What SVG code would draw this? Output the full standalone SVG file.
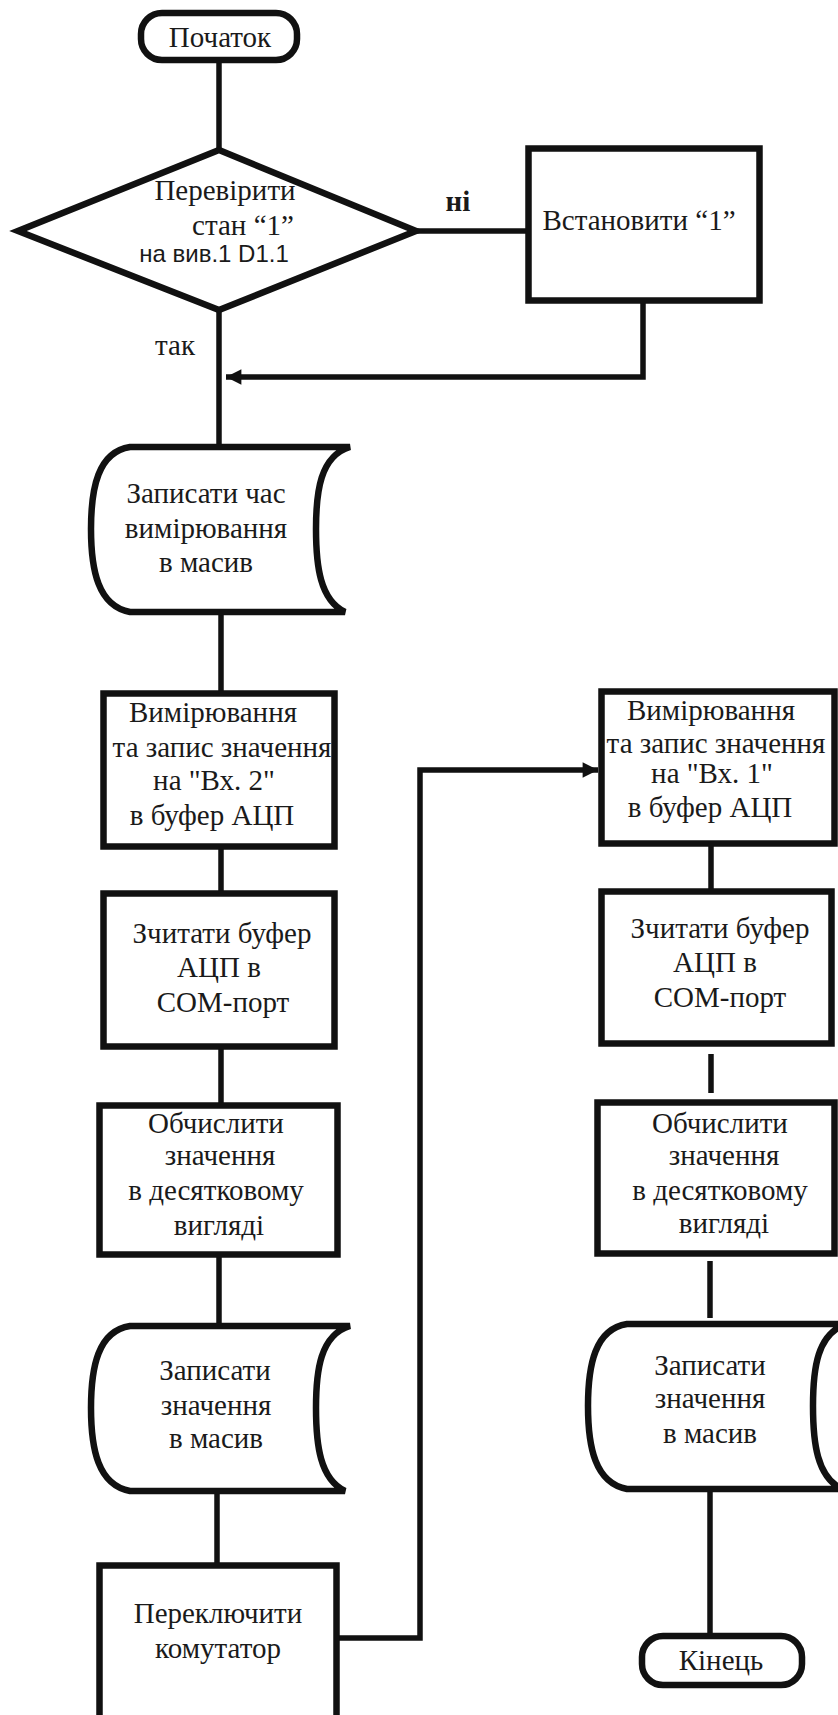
<svg xmlns="http://www.w3.org/2000/svg" width="838" height="1715" viewBox="0 0 838 1715" font-family="'Liberation Serif', 'Times New Roman', Tinos, 'DejaVu Serif', serif">
<style>
.s{fill:#fff;stroke:#111;stroke-width:6.5;stroke-linejoin:miter}
.c{fill:none;stroke:#111;stroke-width:5.5}
.t{font-family:'Liberation Serif','Times New Roman',Tinos,'DejaVu Serif',serif;font-size:29px;fill:#1a1a1a;text-anchor:middle}
.sans{font-family:'Liberation Sans',Arial,sans-serif;font-size:24px;fill:#1a1a1a;text-anchor:middle}
</style>
<defs>
<marker id="ah" viewBox="0 0 10 10" refX="10" refY="5" markerWidth="3.2" markerHeight="2.8" orient="auto" markerUnits="strokeWidth">
<path d="M0,0 L10,5 L0,10 Z" fill="#111"/>
</marker>
<path id="doc" d="M130,447 H350 C320,456 316,492 316,529 C316,566 320,600 345,612 H130 C98,606 91,570 91,529 C91,488 98,452 130,447 Z"/>
</defs>
<rect width="838" height="1715" fill="#fff"/>
<g id="connectors">
<path class="c" d="M219,63 V149"/>
<path class="c" d="M417,231 H527"/>
<path class="c" d="M643,303 V377 H226" marker-end="url(#ah)"/>
<path class="c" d="M219,311 V447"/>
<path class="c" d="M221,612 V692"/>
<path class="c" d="M221,848 V892"/>
<path class="c" d="M221,1048 V1104"/>
<path class="c" d="M219,1256 V1327"/>
<path class="c" d="M217,1494 V1564"/>
<path class="c" d="M339,1638 H420 V770 H598" marker-end="url(#ah)"/>
<path class="c" d="M711,846 V890"/>
<path class="c" d="M711,1054 V1093"/>
<path class="c" d="M710,1261 V1318"/>
<path class="c" d="M710,1491 V1635"/>
</g>
<g id="start"><rect class="s" x="141" y="13" width="156" height="47" rx="21"/><text class="t" x="220" y="47">Початок</text></g>
<g id="check"><polygon class="s" points="219,150 416,231 219,310 18,231"/>
<text class="t" x="225" y="200">Перевірити</text>
<text class="t" x="243" y="235">стан “1”</text>
<text class="sans" x="214" y="262">на вив.1 D1.1</text></g>
<g id="set1"><rect class="s" x="528.5" y="148.5" width="231" height="152"/><text class="t" x="639" y="230">Встановити “1”</text></g>
<g id="labels"><text class="t" x="458" y="211" font-weight="bold">ні</text><text class="t" x="175" y="355">так</text></g>
<g id="doc1"><use href="#doc" class="s"/>
<text class="t" x="206" y="503">Записати час</text><text class="t" x="206" y="538">вимірювання</text><text class="t" x="206" y="572">в масив</text></g>
<g id="meas2"><rect class="s" x="103.5" y="693.5" width="231" height="153"/>
<text class="t" x="213" y="722">Вимірювання</text><text class="t" x="222" y="757">та запис значення</text><text class="t" x="214" y="790">на "Вх. 2"</text><text class="t" x="212" y="825">в буфер АЦП</text></g>
<g id="read2"><rect class="s" x="103.5" y="893.5" width="231" height="153"/>
<text class="t" x="222" y="943">Зчитати буфер</text><text class="t" x="219" y="977">АЦП в</text><text class="t" x="223" y="1012">COM-порт</text></g>
<g id="calc2"><rect class="s" x="99.5" y="1105.5" width="238" height="149"/>
<text class="t" x="216" y="1133">Обчислити</text><text class="t" x="220" y="1165">значення</text><text class="t" x="216" y="1200">в десятковому</text><text class="t" x="219" y="1235">вигляді</text></g>
<g id="doc2"><use href="#doc" class="s" transform="translate(0,879)"/>
<text class="t" x="215" y="1380">Записати</text><text class="t" x="216" y="1415">значення</text><text class="t" x="216" y="1448">в масив</text></g>
<g id="switch"><rect class="s" x="99.5" y="1565.5" width="237" height="200"/>
<text class="t" x="218" y="1623">Переключити</text><text class="t" x="218" y="1658">комутатор</text></g>
<g id="meas1"><rect class="s" x="601.5" y="691.5" width="233" height="152"/>
<text class="t" x="711" y="720">Вимірювання</text><text class="t" x="716" y="753">та запис значення</text><text class="t" x="712" y="783">на "Вх. 1"</text><text class="t" x="710" y="817">в буфер АЦП</text></g>
<g id="read1"><rect class="s" x="601.5" y="891.5" width="230" height="152"/>
<text class="t" x="720" y="938">Зчитати буфер</text><text class="t" x="715" y="972">АЦП в</text><text class="t" x="720" y="1007">COM-порт</text></g>
<g id="calc1"><rect class="s" x="597.5" y="1102.5" width="237" height="151"/>
<text class="t" x="720" y="1133">Обчислити</text><text class="t" x="724" y="1165">значення</text><text class="t" x="720" y="1200">в десятковому</text><text class="t" x="724" y="1233">вигляді</text></g>
<g id="doc3"><use href="#doc" class="s" transform="translate(497,877)"/>
<text class="t" x="710" y="1375">Записати</text><text class="t" x="710" y="1408">значення</text><text class="t" x="710" y="1443">в масив</text></g>
<g id="end"><rect class="s" x="642" y="1636" width="160" height="49" rx="21"/><text class="t" x="721" y="1670">Кінець</text></g>
</svg>
